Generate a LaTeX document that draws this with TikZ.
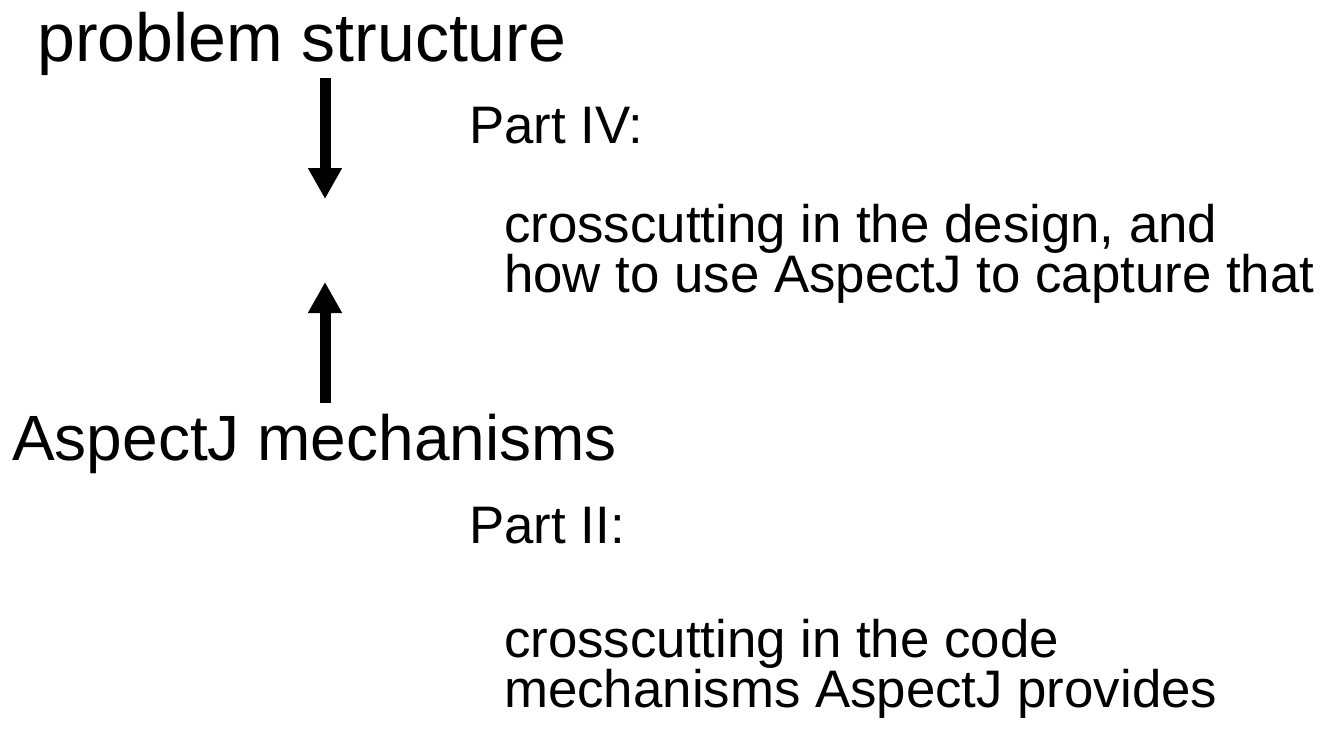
\documentclass[tikz,border=0pt]{standalone}
\usepackage{fontspec}
\setmainfont{Liberation Sans}
\usetikzlibrary{arrows.meta}
\begin{document}
\begin{tikzpicture}[x=1pt,y=-1pt,
  big/.style={anchor=base west,inner sep=0pt,font=\fontsize{64}{70}\selectfont},
  bigger/.style={anchor=base west,inner sep=0pt,font=\fontsize{68}{74}\selectfont},
  small/.style={anchor=base west,inner sep=0pt,font=\fontsize{52.8}{60}\selectfont},
  fatarrow/.style={line width=11pt,-{Triangle[width=32pt,length=31pt]}}]
\useasboundingbox[fill=white] (0,0) rectangle (1323,729);
\node[bigger] (ps) at (37,61) {problem structure};
\node[big] (am) at (12,460) {AspectJ mechanisms};
\node[small] (p4) at (469,143) {Part IV:};
\node[small] (p4a) at (504,242) {crosscutting in the design, and};
\node[small] (p4b) at (504,292) {how to use AspectJ to capture that};
\node[small] (p2) at (469,543) {Part II:};
\node[small] (p2a) at (504,657) {crosscutting in the code};
\node[small] (p2b) at (504,707) {mechanisms AspectJ provides};
\coordinate (a1s) at (325,78);
\coordinate (a1e) at (325,199);
\coordinate (a2s) at (325,403);
\coordinate (a2e) at (325,282);
\draw[fatarrow] (a1s) -- (a1e);
\draw[fatarrow] (a2s) -- (a2e);
\end{tikzpicture}
\end{document}
